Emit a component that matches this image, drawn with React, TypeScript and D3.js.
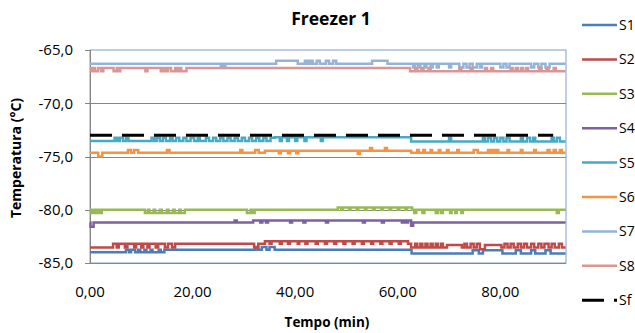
import React from "react";
import * as d3 from "d3";

type P = [number, number];

const seriesNames = ["S1", "S2", "S3", "S4", "S5", "S6", "S7", "S8", "Sf"];
const seriesColors = ["#4A7EBB", "#BE4B48", "#98B954", "#7D60A0", "#46AAC5", "#F69240", "#95B3D7", "#D99694", "#000000"];
const yTicks = [-65, -70, -75, -80, -85];
const xTicks = [0, 20, 40, 60, 80];

const S1: P[] = [
  [0, -84.0], [7.0, -83.75], [7.6, -84.0], [8.0, -83.75], [8.8, -84.0], [9.4, -83.75], [9.8, -84.0], [10.6, -83.75], [11.0, -84.0], [11.8, -83.75], [12.2, -84.0], [13.4, -83.75], [13.8, -84.0], [14.5, -83.75],
  [32.3, -83.5], [32.8, -83.75], [33.5, -83.5], [34.4, -83.75], [35.0, -83.5], [36.0, -83.75],
  [62.7, -84.1], [74.6, -83.8], [75.8, -84.1], [76.6, -83.8], [80.4, -84.1], [83.0, -83.8], [84.0, -84.1], [86.0, -83.8], [86.8, -84.1], [88.8, -83.8], [89.8, -84.1], [92.7, -84.1],
];
const S2: P[] = [
  [0, -83.55], [4.5, -83.2], [5.2, -83.55], [5.6, -83.2], [6.8, -83.55], [7.3, -83.2], [8.6, -83.55], [9.0, -83.2], [10.0, -83.55], [10.4, -83.2], [11.2, -83.55], [11.6, -83.2], [12.8, -83.55], [13.3, -83.2], [14.6, -83.55], [15.2, -83.2], [16.0, -83.55], [16.6, -83.2],
  [32.0, -83.55], [32.8, -83.2], [34.1, -82.95], [35.0, -83.2], [35.4, -82.95], [37.0, -83.2], [37.4, -82.95], [38.6, -83.2], [39.0, -82.95], [40.5, -83.2], [40.8, -82.95], [42.0, -83.2], [42.4, -82.95], [44.0, -83.2], [44.4, -82.95], [45.8, -83.2], [46.2, -82.95], [47.6, -83.2], [48.0, -82.95], [49.4, -83.2], [49.8, -82.95], [51.2, -83.2], [51.6, -82.95], [53.0, -83.2], [53.4, -82.95], [54.8, -83.2], [55.2, -82.95], [56.6, -83.2], [57.0, -82.95], [58.4, -83.2], [58.8, -82.95], [60.2, -83.2], [60.6, -82.95], [62.0, -83.2], [62.6, -83.55],
  [63.4, -83.2], [63.8, -83.55], [64.4, -83.2], [64.8, -83.55], [65.4, -83.2], [65.8, -83.55], [66.4, -83.2], [66.8, -83.55], [67.4, -83.2], [67.8, -83.55], [68.4, -83.2], [68.8, -83.55], [69.6, -83.3], [72.5, -83.55], [73.0, -83.2], [73.5, -83.55], [74.2, -83.2], [74.8, -83.55], [75.4, -83.2], [76.0, -83.7], [77.0, -83.3], [80.2, -83.55], [80.8, -83.2], [81.4, -83.55], [82.0, -83.2], [82.6, -83.55], [83.4, -83.2], [84.0, -83.55], [84.6, -83.2], [85.2, -83.55], [86.0, -83.2], [86.6, -83.55], [87.4, -83.2], [88.0, -83.55], [88.6, -83.2], [89.4, -83.55], [90.0, -83.2], [90.6, -83.55], [91.4, -83.2], [92.0, -83.55], [92.7, -83.55],
];
const S3: P[] = [
  [0, -80.0], [0.3, -80.3], [0.7, -80.0], [1.1, -80.3], [1.5, -80.0], [1.9, -80.3], [2.3, -80.0],
  [10.7, -80.3], [11.3, -80.0], [11.6, -80.3], [12.4, -80.0], [12.7, -80.3], [13.6, -80.0], [14.0, -80.3], [15.0, -80.0], [15.3, -80.3], [16.2, -80.0], [16.5, -80.3], [17.4, -80.0], [17.7, -80.3], [18.5, -80.0],
  [30.6, -80.3], [31.3, -80.0], [31.6, -80.3], [32.1, -80.0],
  [48.3, -79.8], [49.0, -80.0], [49.3, -79.8], [50.5, -80.0], [50.8, -79.8], [52.0, -80.0], [52.3, -79.8], [53.6, -80.0], [53.9, -79.8], [55.2, -80.0], [55.5, -79.8], [56.8, -80.0], [57.1, -79.8], [58.4, -80.0], [58.7, -79.8], [60.0, -80.0], [60.3, -79.8], [61.5, -80.0], [61.8, -79.8], [62.8, -80.0],
  [63.2, -80.3], [63.6, -80.0], [64.8, -80.3], [65.2, -80.0], [67.4, -80.3], [67.8, -80.0], [68.4, -80.3], [68.8, -80.0], [70.2, -80.3], [70.5, -80.0], [71.2, -80.3], [71.5, -80.0], [72.4, -80.3], [72.7, -80.0], [91.0, -80.3], [91.4, -80.0], [92.7, -80.0],
];
const S4: P[] = [
  [0, -81.2], [0.1, -81.6], [0.7, -81.2], [28.2, -81.0], [28.6, -81.2], [31.8, -81.0], [33.2, -81.2], [33.6, -81.0], [34.3, -81.2], [34.7, -81.0], [39.0, -81.2], [39.4, -81.0], [41.6, -81.2], [42.0, -81.0], [46.0, -81.2], [46.4, -81.0], [53.2, -81.2], [53.6, -81.0], [56.9, -81.2], [57.3, -81.0], [60.8, -81.2], [61.2, -81.0], [61.6, -81.2], [62.0, -81.0], [62.6, -81.5], [63.0, -81.2], [92.7, -81.2],
];
const S5: P[] = [
  [0, -73.55], [4.8, -73.25], [5.3, -73.55], [5.8, -73.25], [6.4, -73.55], [7.0, -73.25], [7.5, -73.55], [12.0, -73.25], [12.5, -73.55], [13.0, -73.25], [13.6, -73.55], [14.2, -73.25], [14.8, -73.55], [15.6, -73.25], [16.1, -73.55], [16.8, -73.25], [17.4, -73.55], [18.2, -73.25], [18.8, -73.55], [19.6, -73.25], [20.3, -73.55], [21.0, -73.25], [21.4, -73.55], [22.6, -73.25], [23.2, -73.55], [24.0, -73.25], [24.6, -73.55], [25.4, -73.25], [26.0, -73.55], [26.8, -73.25], [27.4, -73.55], [28.2, -73.25], [28.8, -73.55], [29.6, -73.25], [30.2, -73.55], [31.0, -73.25], [31.6, -73.55], [32.4, -73.25], [33.0, -73.55], [33.8, -73.25], [34.4, -73.55], [35.2, -73.25],
  [36.0, -73.2], [37.0, -73.55], [37.4, -73.2], [38.4, -73.55], [38.8, -73.2], [40.0, -73.55], [40.4, -73.2], [41.8, -73.55], [42.2, -73.2], [45.0, -73.55], [45.4, -73.2],
  [62.6, -73.6], [70.0, -73.25], [70.4, -73.6], [76.6, -73.25], [77.0, -73.6], [77.6, -73.25], [78.2, -73.6], [78.8, -73.25], [79.4, -73.6], [80.0, -73.25], [80.6, -73.6], [81.2, -73.25], [81.8, -73.6], [84.0, -73.25], [84.4, -73.6], [85.2, -73.25], [85.8, -73.6], [86.4, -73.25], [86.8, -73.6], [90.0, -73.25], [90.4, -73.6], [91.0, -73.25], [91.6, -73.6], [92.7, -73.6],
];
const S6: P[] = [
  [0, -74.65], [1.6, -75.0], [2.4, -74.65], [7.4, -74.4], [8.0, -74.65], [8.6, -74.4], [9.4, -74.65], [15.0, -74.4], [15.5, -74.65], [29.3, -74.4], [29.7, -74.65], [32.2, -74.4], [32.9, -74.65],
  [34.1, -74.45], [36.8, -74.7], [37.2, -74.45], [38.6, -74.7], [39.0, -74.45], [40.2, -74.7], [40.6, -74.45], [52.2, -74.75], [52.6, -74.45], [54.6, -74.2], [55.0, -74.45], [57.5, -74.2], [57.9, -74.45],
  [62.6, -74.65], [63.8, -74.4], [64.1, -74.65], [65.0, -74.4], [65.3, -74.65], [66.4, -74.4], [66.7, -74.65], [68.0, -74.4], [68.3, -74.65], [69.6, -74.4], [69.9, -74.65], [71.6, -74.4], [71.9, -74.65], [74.8, -74.4], [75.6, -74.65], [77.6, -74.4], [78.0, -74.65], [78.4, -74.4], [78.8, -74.65], [79.2, -74.4], [79.6, -74.65], [81.4, -74.4], [81.7, -74.65], [84.0, -74.4], [84.3, -74.65], [86.6, -74.4], [86.9, -74.65], [89.2, -74.4], [89.6, -74.65], [90.4, -74.4], [90.8, -74.65], [91.6, -74.4], [92.0, -74.65], [92.7, -74.65],
];
const S7: P[] = [
  [0, -66.3], [25.5, -66.6], [25.9, -66.3], [26.1, -66.6], [26.4, -66.3], [36.3, -66.0], [40.5, -66.3], [41.9, -66.0], [42.4, -66.3], [42.9, -66.0], [43.4, -66.3], [44.2, -66.0], [44.8, -66.3], [46.0, -66.0], [46.6, -66.3], [47.4, -66.0], [48.0, -66.3], [55.0, -66.0], [58.0, -66.3],
  [63.0, -66.65], [63.4, -66.3], [64.0, -66.65], [64.4, -66.3], [65.2, -66.65], [65.6, -66.3], [66.4, -66.65], [66.8, -66.3], [67.6, -66.65], [68.0, -66.3], [70.0, -66.65], [70.4, -66.3], [72.0, -66.65], [72.8, -66.3], [73.4, -66.65], [74.0, -66.3], [74.6, -66.65], [75.4, -66.3], [76.0, -66.65], [76.4, -66.3], [80.0, -66.65], [80.6, -66.3], [81.2, -66.65], [81.8, -66.3], [86.0, -66.65], [86.6, -66.3], [87.4, -66.65], [88.0, -66.3], [88.8, -66.65], [89.6, -66.3], [92.7, -66.3],
];
const S8: P[] = [
  [0, -66.7], [0.2, -67.0], [0.6, -66.7], [1.0, -67.0], [1.6, -66.7], [2.2, -67.0], [2.6, -66.7], [4.6, -67.0], [5.2, -66.7], [5.5, -67.0], [5.9, -66.7], [10.8, -67.0], [11.2, -66.7], [13.8, -67.0], [14.3, -66.7], [14.8, -67.0], [15.2, -66.7], [15.8, -67.0], [16.6, -66.7], [17.0, -67.0], [17.4, -66.7], [17.8, -67.0], [18.8, -66.7],
  [62.4, -67.0], [63.4, -66.7], [63.8, -67.0], [64.6, -66.7], [65.0, -67.0], [66.0, -66.7], [66.4, -67.0], [72.0, -66.7], [72.4, -67.0], [74.2, -66.7], [74.6, -67.0], [77.0, -66.7], [77.4, -67.0], [78.2, -66.7], [78.6, -67.0], [82.0, -66.7], [82.4, -67.0], [83.0, -66.7], [83.4, -67.0], [84.0, -66.7], [84.4, -67.0], [85.0, -66.7], [85.4, -67.0], [87.6, -66.7], [88.0, -67.0], [89.0, -66.7], [89.4, -67.0], [90.4, -66.7], [90.8, -67.0], [92.7, -67.0],
];
const Sf: P[] = [[0, -73.0], [90.3, -73.0]];

const seriesData: P[][] = [S1, S2, S3, S4, S5, S6, S7, S8, Sf];

const W = 635, H = 333;
const plot = { left: 90, right: 566, top: 50, bottom: 263 };
const FONT = "'Open Sans', 'Liberation Sans', sans-serif";

export default function App() {
  const x = d3.scaleLinear().domain([0, 92.8]).range([plot.left, plot.right]);
  const y = d3.scaleLinear().domain([-85, -65]).range([plot.bottom, plot.top]);
  const fmt = (v: number, d: number) => v.toFixed(d).replace(".", ",");
  const stepLine = d3.line<P>().x((d) => x(d[0])).y((d) => y(d[1])).curve(d3.curveStepAfter);
  const straight = d3.line<P>().x((d) => x(d[0])).y((d) => y(d[1]));

  const legendX1 = 582, legendX2 = 617, legendY0 = 25, legendStep = 34.4;

  return (
    <svg width={W} height={H} style={{ position: "absolute", left: 0, top: 0, background: "#fff" }} fontFamily={FONT}>
      <rect x={plot.left} y={plot.top} width={plot.right - plot.left} height={plot.bottom - plot.top} fill="none" stroke="#7BA0CD" strokeWidth={1} />
      {yTicks.filter((t) => t !== -65 && t !== -85).map((t) => (
        <line key={t} x1={plot.left} x2={plot.right} y1={Math.round(y(t)) + 0.5} y2={Math.round(y(t)) + 0.5} stroke="#868686" strokeWidth={1} />
      ))}
      <line x1={plot.left} x2={plot.right} y1={plot.bottom + 0.5} y2={plot.bottom + 0.5} stroke="#868686" />
      <line x1={plot.left + 0.5} x2={plot.left + 0.5} y1={plot.top} y2={plot.bottom} stroke="#868686" />
      {yTicks.map((t) => (
        <g key={t}>
          <line x1={plot.left - 5} x2={plot.left} y1={Math.round(y(t)) + 0.5} y2={Math.round(y(t)) + 0.5} stroke="#868686" />
          <text x={73} y={y(t)} dy="0.35em" textAnchor="end" fontSize={15} fill="#000">{fmt(t, 1)}</text>
        </g>
      ))}
      {xTicks.map((t) => (
        <text key={t} x={x(t)} y={297} textAnchor="middle" fontSize={15} fill="#000">{fmt(t, 2)}</text>
      ))}
      {seriesData.map((data, i) => (
        <path key={i} d={(i === 8 ? straight(data) : stepLine(data)) || ""} fill="none" stroke={seriesColors[i]} strokeWidth={i === 8 ? 3 : 2.5} strokeDasharray={i === 8 ? "22,10" : undefined} />
      ))}
      <text x={331} y={25} textAnchor="middle" fontSize={17.5} fontWeight="bold">Freezer 1</text>
      <text x={327} y={327} textAnchor="middle" fontSize={13.5} fontWeight="bold">Tempo (min)</text>
      <text transform={`translate(21,158) rotate(-90)`} textAnchor="middle" fontSize={14} fontWeight="bold">Temperatura (°C)</text>
      {seriesNames.map((n, i) => {
        const ly = legendY0 + i * legendStep;
        return (
          <g key={n}>
            <line x1={legendX1} x2={legendX2} y1={ly} y2={ly} stroke={seriesColors[i]} strokeWidth={i === 8 ? 3 : 2.5} strokeDasharray={i === 8 ? "22,10" : undefined} />
            <text x={619} y={ly} dy="0.35em" fontSize={14} fill="#000">{n}</text>
          </g>
        );
      })}
    </svg>
  );
}
